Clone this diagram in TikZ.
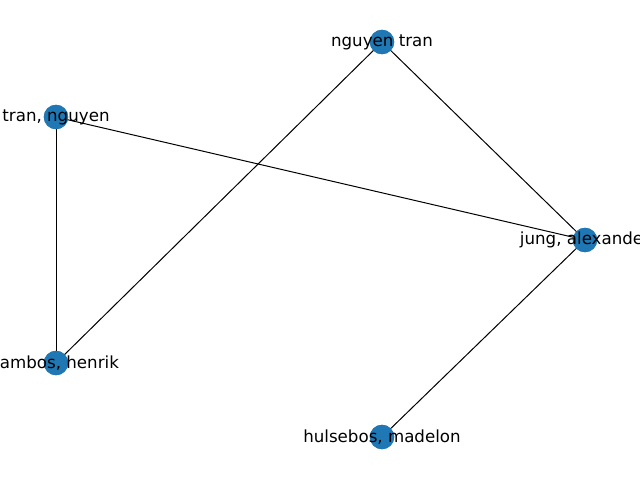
\documentclass[tikz,border=0pt]{standalone}
\usepackage{fontspec}
\setmainfont{DejaVu Sans}
\definecolor{nxblue}{HTML}{1F77B4}
\begin{document}
\begin{tikzpicture}[x=0.75pt,y=-0.75pt,
  vertex/.style={circle,fill=nxblue,draw=nxblue,line width=0.75pt,minimum size=17.5pt,inner sep=0pt},
  lbl/.style={font=\fontsize{12.5pt}{14pt}\selectfont,inner sep=0pt,text=black},
  edge/.style={draw=black,line width=0.75pt}]
\useasboundingbox (0,0) rectangle (640,480);
\clip (0,0) rectangle (640,480);
\fill[white] (0,0) rectangle (640,480);
\node[vertex] (nt) at (382,42) {};
\node[vertex] (tn) at (56,117) {};
\node[vertex] (ja) at (585,240) {};
\node[vertex] (rh) at (56,363) {};
\node[vertex] (hm) at (382,437) {};
\begin{scope}[on background layer/.try]
\end{scope}
\draw[edge] (nt.center) -- (ja.center);
\draw[edge] (nt.center) -- (rh.center);
\draw[edge] (tn.center) -- (ja.center);
\draw[edge] (tn.center) -- (rh.center);
\draw[edge] (ja.center) -- (hm.center);
\foreach \n in {nt,tn,ja,rh,hm} \node[vertex] at (\n) {};
\node[lbl] (lnt) at (nt) {nguyen tran};
\node[lbl] (ltn) at (tn) {tran, nguyen};
\node[lbl] (lja) at (ja) {jung, alexander};
\node[lbl] (lrh) at (rh) {rambos, henrik};
\node[lbl] (lhm) at (hm) {hulsebos, madelon};
\end{tikzpicture}
\end{document}
